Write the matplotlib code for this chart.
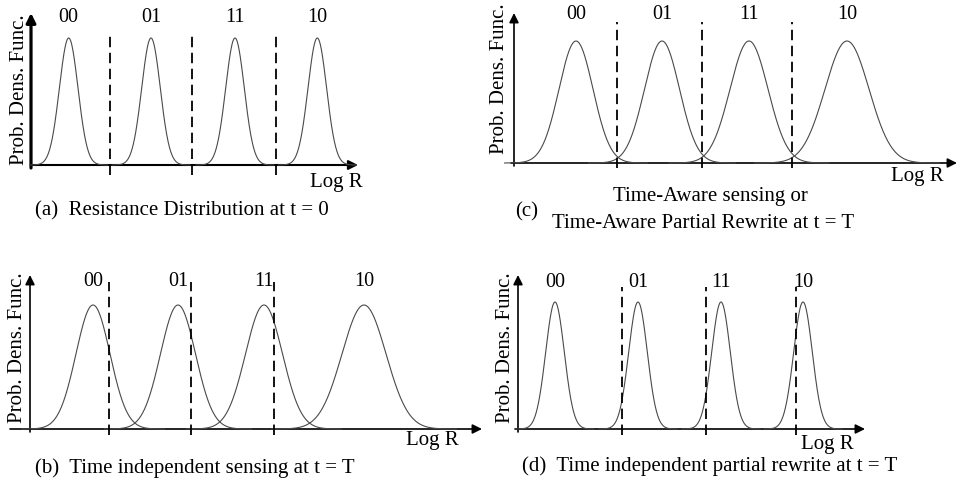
import numpy as np
import matplotlib
matplotlib.use('Agg')
import matplotlib.pyplot as plt

plt.rcParams['font.family'] = ['Liberation Serif', 'DejaVu Serif']
plt.rcParams['lines.scale_dashes'] = False

W, H, DPI = 959, 482, 100

# ---------------- data (Log R in arbitrary units, PDF normalised to peak = 1)
labels = ['00', '01', '11', '10']

a_means = [37.7, 120, 204, 286.3]
a_sigmas = [9.3, 9.3, 9.3, 9.3]
a_thresh = [79.3, 161.3, 245]

b_means = [63, 148, 234, 334]
b_sigmas = [17, 17.5, 18.5, 22]
b_thresh = [79, 161, 244]

c_means = [62, 148, 235, 333]
c_sigmas = [17, 17.5, 19, 22]
c_thresh = [103, 188, 278]

d_means = [37, 120, 203, 285]
d_sigmas = [9.3, 9.3, 9.3, 9.3]
d_thresh = [104, 188, 278]

captions = {
    'a': '(a)  Resistance Distribution at t = 0',
    'b': '(b)  Time independent sensing at t = T',
    'd': '(d)  Time independent partial rewrite at t = T',
}

# ---------------- layout (pixels)
layout = {
    'a': dict(origin=(31, 165), peak=127, xstart=0, xend=327, ytop=152, lab=147,
              dtop=130, dbot=-10, ylab=(-12, 75), logr=(305, -18), axlw=1.5, ylw=2.3),
    'b': dict(origin=(30, 429), peak=124, xstart=-20, xend=452, ytop=154, lab=147,
              dtop=147, dbot=-6, ylab=(-12, 81), logr=(402, -12), axlw=1.2, ylw=1.2),
    'c': dict(origin=(514, 163), peak=122, xstart=-3, xend=443, ytop=150, lab=148,
              dtop=141, dbot=-5, ylab=(-15, 84), logr=(403, -14), axlw=1.2, ylw=1.2),
    'd': dict(origin=(518, 429), peak=127, xstart=-3, xend=347, ytop=154, lab=147,
              dtop=142, dbot=-6, ylab=(-13, 81), logr=(309, -16), axlw=1.2, ylw=1.2),
}

data = {
    'a': (a_means, a_sigmas, a_thresh),
    'b': (b_means, b_sigmas, b_thresh),
    'c': (c_means, c_sigmas, c_thresh),
    'd': (d_means, d_sigmas, d_thresh),
}

FS = 15
FS_LAB = 14.5

fig = plt.figure(figsize=(W / DPI, H / DPI), dpi=DPI)

for key in ['a', 'b', 'c', 'd']:
    L = layout[key]
    means, sigmas, thresh = data[key]
    ox, oy = L['origin']
    P = L['peak']
    ax = fig.add_axes([0, 0, 1, 1])
    ax.set_xlim(-ox, W - ox)
    ax.set_ylim(-(H - oy) / P, oy / P)
    ax.axis('off')
    ax.patch.set_alpha(0)

    # curves
    for m, s in zip(means, sigmas):
        x = np.linspace(m - 4.2 * s, m + 4.2 * s, 500)
        y = np.exp(-0.5 * ((x - m) / s) ** 2)
        ax.plot(x, y, color='#4a4a4a', lw=0.8, zorder=3)

    # thresholds
    for t in thresh:
        ax.plot([t, t], [L['dbot'] / P, L['dtop'] / P], color='black', lw=1.3,
                dashes=(7.5, 4.0), zorder=4)

    # axes with arrows
    ax.annotate('', xy=(L['xend'], 0), xytext=(L['xstart'], 0),
                arrowprops=dict(arrowstyle='-|>', lw=L['axlw'], color='black',
                                shrinkA=0, shrinkB=0, mutation_scale=14), zorder=2)
    ax.annotate('', xy=(0, L['ytop'] / P), xytext=(0, -3 / P),
                arrowprops=dict(arrowstyle='-|>', lw=L['ylw'], color='black',
                                shrinkA=0, shrinkB=0, mutation_scale=14), zorder=2)

    # state labels
    for m, lab in zip(means, labels):
        ax.text(m, L['lab'] / P, lab, ha='center', va='center', fontsize=FS_LAB)

    ax.text(L['ylab'][0], L['ylab'][1] / P, 'Prob. Dens. Func.', rotation=90,
            ha='center', va='center', fontsize=FS)
    ax.text(L['logr'][0], L['logr'][1] / P, 'Log R', ha='center', va='center',
            fontsize=FS)

# captions
fig.text(35 / W, 1 - 211 / H, captions['a'], ha='left', va='center', fontsize=FS)
fig.text(35 / W, 1 - 468 / H, captions['b'], ha='left', va='center', fontsize=FS)
fig.text(522 / W, 1 - 466 / H, captions['d'], ha='left', va='center', fontsize=FS)
fig.text(527 / W, 1 - 212 / H, '(c)', ha='center', va='center', fontsize=FS)
fig.text(710 / W, 1 - 196 / H, 'Time-Aware sensing or', ha='center', va='center', fontsize=FS)
fig.text(703 / W, 1 - 223 / H, 'Time-Aware Partial Rewrite at t = T', ha='center',
         va='center', fontsize=FS)

fig.savefig('out.png', dpi=DPI)
